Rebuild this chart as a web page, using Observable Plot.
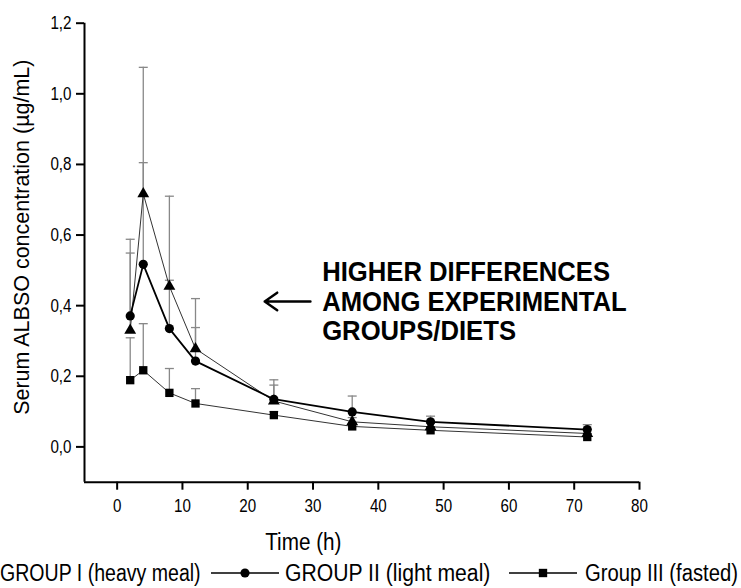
<!DOCTYPE html>
<html>
<head>
<meta charset="utf-8">
<script src="https://cdn.jsdelivr.net/npm/d3@7"></script>
<script src="https://cdn.jsdelivr.net/npm/@observablehq/plot@0.6"></script>
<style>
  html, body { margin: 0; padding: 0; background: #fff; }
  #wrap { width: 741px; height: 588px; position: relative; overflow: hidden; }
  #legend { position: absolute; left: 0; top: 558px; width: 741px; height: 30px;
    font-family: "Liberation Sans", Arial, sans-serif; font-size: 23px; color: #000; }
  #legend span, #legend svg { position: absolute; top: 0; }
  #legend span { line-height: 30px; white-space: nowrap; transform-origin: 0 50%; }
</style>
</head>
<body>
<div id="wrap">
  <div id="chart"></div>
  <div id="legend"></div>
</div>
<script>
// ---- data ----
const times = [2, 4, 8, 12, 24, 36, 48, 72];
const groups = ["GROUP I (heavy meal)", "GROUP II (light meal)", "Group III (fasted)"];
const g1Mean = [0.330, 0.717, 0.455, 0.278, 0.130, 0.071, 0.057, 0.038];
const g1Sd   = [0.219, 0.358, 0.255, 0.142, 0.045, 0.012, 0.010, 0.012];
const g2Mean = [0.371, 0.517, 0.335, 0.243, 0.135, 0.099, 0.071, 0.049];
const g2Sd   = [0.217, 0.288, 0.137, 0.095, 0.055, 0.045, 0.016, 0.014];
const g3Mean = [0.189, 0.217, 0.153, 0.123, 0.090, 0.058, 0.047, 0.028];
const g3Sd   = [0.120, 0.132, 0.069, 0.042, 0.010, 0.008, 0.006, 0.010];
const xTicks = [0, 10, 20, 30, 40, 50, 60, 70, 80];
const yTicks = [0, 0.2, 0.4, 0.6, 0.8, 1.0, 1.2];
const xLabel = "Time (h)";
const yLabel = "Serum ALBSO concentration (µg/mL)";
const note = ["HIGHER DIFFERENCES", "AMONG EXPERIMENTAL", "GROUPS/DIETS"];
const noteAt = {time: 31.4, value: 0.412};
const arrowFrom = {time: 29.6, value: 0.412};
const arrowTo = {time: 22.6, value: 0.412};

// ---- table ----
const means = [g1Mean, g2Mean, g3Mean];
const sds = [g1Sd, g2Sd, g3Sd];
const rows = [];
groups.forEach((g, gi) => times.forEach((t, i) => rows.push({group: g, gi, time: t, mean: means[gi][i], sd: sds[gi][i]})));
const byGroup = gi => rows.filter(r => r.gi === gi);

const symbols = ["triangle", "circle", "square"];
const symR = [4.4, 4.6, 4.7];
const lineStroke = ["#333", "#000", "#333"];
const lineWidth = [1, 1.8, 1];

const capSymbol = { draw(ctx, size) { const w = Math.sqrt(size / Math.PI); ctx.moveTo(-w, 0); ctx.lineTo(w, 0); } };

const sans = '"Liberation Sans", Arial, sans-serif';
const fmt = d => d3.format(".1f")(d).replace(".", ",");

const marks = [];
// error bars
marks.push(Plot.ruleX(rows, {x: "time", y1: "mean", y2: d => d.mean + d.sd, stroke: "#888", strokeWidth: 1.3}));
marks.push(Plot.dot(rows, {x: "time", y: d => d.mean + d.sd, symbol: capSymbol, r: 4.5, stroke: "#888", strokeWidth: 1.3, fill: "none"}));
// lines
[0, 2, 1].forEach(gi => marks.push(Plot.line(byGroup(gi), {x: "time", y: "mean", stroke: lineStroke[gi], strokeWidth: lineWidth[gi]})));
// markers
[0, 2, 1].forEach(gi => marks.push(Plot.dot(byGroup(gi), {x: "time", y: "mean", symbol: symbols[gi], r: symR[gi], fill: "#000", stroke: "none"})));
// axes
marks.push(Plot.ruleY([-0.1], {stroke: "#000", strokeWidth: 2}));
marks.push(Plot.ruleX([-5], {stroke: "#000", strokeWidth: 2}));
marks.push(Plot.axisX({ticks: xTicks, tickSize: 8, tickPadding: 9, tickFormat: d => String(d), label: null, fontSize: 18.5, strokeWidth: 2}));
marks.push(Plot.axisY({ticks: yTicks, tickSize: 8, tickPadding: 5, tickFormat: fmt, label: null, fontSize: 18.5, strokeWidth: 2}));
// axis titles
marks.push(Plot.text([xLabel], {frameAnchor: "bottom", text: d => d, textAnchor: "end", dx: -20.5, dy: 60, fontSize: 23, lineAnchor: "middle"}));
marks.push(Plot.text([yLabel], {frameAnchor: "left", text: d => d, textAnchor: "middle", rotate: -90, dx: -62, dy: -15.5, fontSize: 21.5, lineAnchor: "middle"}));
// annotation (one text per line so each can be condensed)
note.forEach((line, i) => marks.push(Plot.text([line], {x: () => noteAt.time, y: () => noteAt.value, text: d => d, textAnchor: "start", lineAnchor: "middle", dy: (i - 1) * 29.5, fontSize: 28.5, fontWeight: "bold"})));
marks.push(Plot.arrow([arrowFrom], {x1: "time", y1: "value", x2: () => arrowTo.time, y2: () => arrowTo.value, stroke: "#000", strokeWidth: 2.5, headLength: 12, headAngle: 70}));

const chart = Plot.plot({
  width: 741,
  height: 556,
  marginLeft: 84,
  marginRight: 102,
  marginTop: 22.7,
  marginBottom: 74.3,
  style: {fontFamily: sans, background: "#fff", color: "#000", overflow: "visible"},
  x: {domain: [-5, 80]},
  y: {domain: [-0.1, 1.2]},
  marks
});
document.getElementById("chart").appendChild(chart);

// condense horizontal texts to mimic the narrow typeface of the reference
function condenseEl(el, k) {
  const L = el.getComputedTextLength();
  if (L > 0) { el.setAttribute("textLength", (L * k).toFixed(2)); el.setAttribute("lengthAdjust", "spacingAndGlyphs"); }
}
chart.querySelectorAll('g[aria-label="x-axis tick label"] text, g[aria-label="y-axis tick label"] text').forEach(el => condenseEl(el, 0.82));
chart.querySelectorAll("text").forEach(el => {
  const t = el.textContent;
  if (note.includes(t) || t === xLabel) condenseEl(el, 0.9);
});

// ---- legend (HTML below the SVG) ----
const legend = document.getElementById("legend");
const legendLayout = [{gi: 0, left: 0, k: 0.85}, {gi: 1, left: 285, k: 0.92, markerLeft: 210}, {gi: 2, left: 585, k: 0.88, markerLeft: 508}];
legendLayout.forEach(item => {
  if (item.markerLeft !== undefined) {
    const s = d3.create("svg").attr("width", 70).attr("height", 30).style("left", item.markerLeft + "px");
    s.append("line").attr("x1", 1).attr("x2", 69).attr("y1", 15).attr("y2", 15).attr("stroke", "#000").attr("stroke-width", 1.6);
    s.append("path").attr("transform", "translate(35,15)").attr("d", d3.symbol(item.gi === 1 ? d3.symbolCircle : d3.symbolSquare, item.gi === 1 ? 66 : 70)()).attr("fill", "#000");
    legend.appendChild(s.node());
  }
  const sp = document.createElement("span");
  sp.textContent = groups[item.gi];
  sp.style.left = item.left + "px";
  sp.style.transform = `scaleX(${item.k})`;
  legend.appendChild(sp);
});
</script>
</body>
</html>
